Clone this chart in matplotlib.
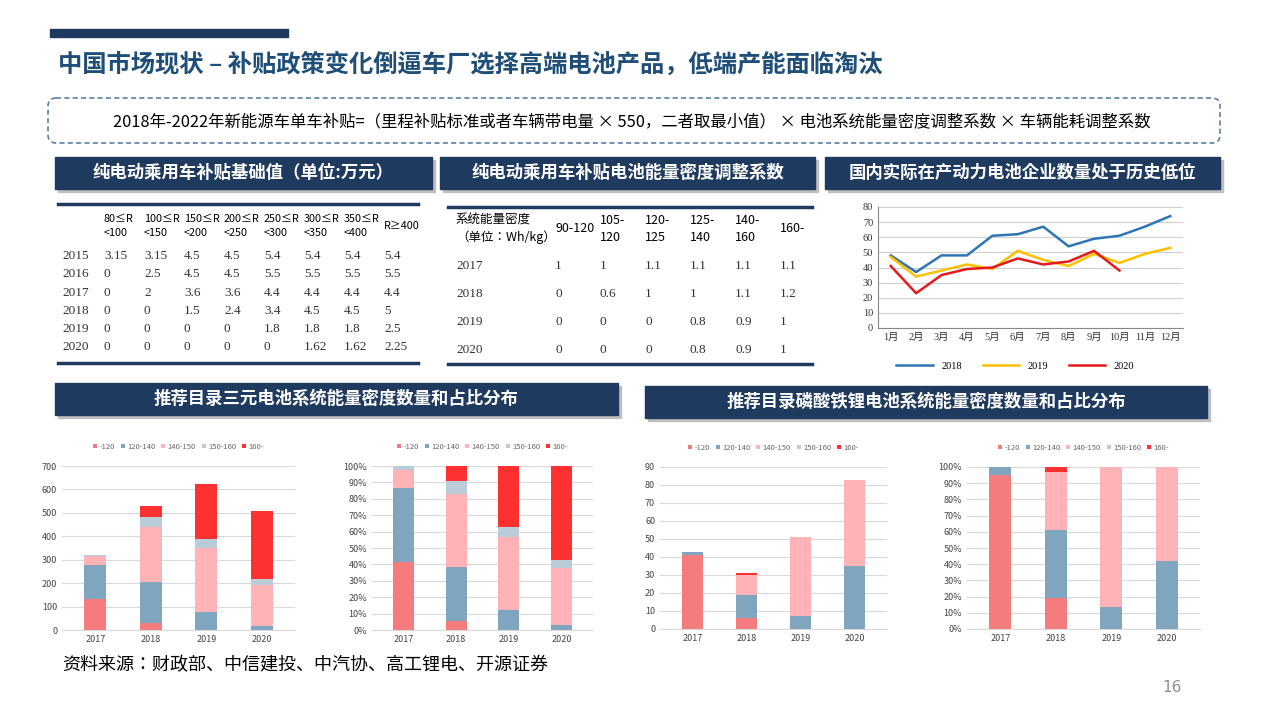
import numpy as np
import matplotlib.pyplot as plt
from matplotlib.patches import FancyBboxPatch, Rectangle

plt.rcParams['font.family'] = ['Noto Sans CJK JP', 'DejaVu Sans']
SERIF = ['Liberation Serif', 'Noto Sans CJK JP']

W, H = 1280, 719
NAVY = '#1F3A5F'
SEG_COLORS = ['#F47C7C', '#7FA5BF', '#FFB3B6', '#B9CCD8', '#FF3030']
SEG_LABELS = ['-120', '120-140', '140-150', '150-160', '160-']
YEARS = ['2017', '2018', '2019', '2020']

# subsidy base table
sub_cols = ['80≤R\n<100', '100≤R\n<150', '150≤R\n<200', '200≤R\n<250',
            '250≤R\n<300', '300≤R\n<350', '350≤R\n<400', 'R≥400']
sub_years = ['2015', '2016', '2017', '2018', '2019', '2020']
sub_vals = [['3.15', '3.15', '4.5', '4.5', '5.4', '5.4', '5.4', '5.4'],
            ['0', '2.5', '4.5', '4.5', '5.5', '5.5', '5.5', '5.5'],
            ['0', '2', '3.6', '3.6', '4.4', '4.4', '4.4', '4.4'],
            ['0', '0', '1.5', '2.4', '3.4', '4.5', '4.5', '5'],
            ['0', '0', '0', '0', '1.8', '1.8', '1.8', '2.5'],
            ['0', '0', '0', '0', '0', '1.62', '1.62', '2.25']]

# energy density coefficient table
den_cols = ['90-120', '105-\n120', '120-\n125', '125-\n140', '140-\n160', '160-']
den_years = ['2017', '2018', '2019', '2020']
den_vals = [['1', '1', '1.1', '1.1', '1.1', '1.1'],
            ['0', '0.6', '1', '1', '1.1', '1.2'],
            ['0', '0', '0', '0.8', '0.9', '1'],
            ['0', '0', '0', '0.8', '0.9', '1']]

# battery companies per month
months = ['1月', '2月', '3月', '4月', '5月', '6月', '7月', '8月', '9月', '10月', '11月', '12月']
c2018 = [48, 37, 48, 48, 61, 62, 67, 54, 59, 61, 67, 74]
c2019 = [47, 34, 38, 42, 39, 51, 45, 41, 49, 43, 49, 53]
c2020 = [41, 23, 35, 39, 40, 46, 42, 44, 51, 38]

# ternary battery counts per density segment (rows = segments)
ncm = np.array([[133, 30, 0, 0],
                [145, 173, 75, 15],
                [37, 237, 277, 177],
                [7, 43, 38, 25],
                [0, 47, 233, 290]], dtype=float)
# LFP battery counts
lfp = np.array([[41, 6, 0, 0],
                [2, 13, 7, 35],
                [0, 11, 44, 48],
                [0, 0, 0, 0],
                [0, 1, 0, 0]], dtype=float)

fig = plt.figure(figsize=(12.8, 7.19), dpi=100)
bg = fig.add_axes([0, 0, 1, 1])
bg.set_xlim(0, W)
bg.set_ylim(H, 0)
bg.axis('off')


def rect_ax(x0, y0, x1, y1):
    return fig.add_axes([x0 / W, 1 - y1 / H, (x1 - x0) / W, (y1 - y0) / H])


# top bar and title
bg.add_patch(Rectangle((50, 29), 238, 8, color=NAVY))
bg.text(58, 65, '中国市场现状 – 补贴政策变化倒逼车厂选择高端电池产品，低端产能面临淘汰',
        fontsize=17.5, fontweight='bold', color='#1F4E79', va='center')

# formula box
bg.add_patch(FancyBboxPatch((48, 98), 1172, 45, boxstyle='round,pad=0,rounding_size=8',
                            fill=False, ec='#5B7FA6', ls=(0, (3, 2)), lw=1.2))
bg.text(632, 122, '2018年-2022年新能源车单车补贴=（里程补贴标准或者车辆带电量 × 550，二者取最小值） × 电池系统能量密度调整系数 × 车辆能耗调整系数',
        fontsize=11.8, ha='center', va='center')


def header(x0, y0, x1, y1, txt):
    bg.add_patch(Rectangle((x0 + 3, y0 + 3), x1 - x0, y1 - y0, color='#BFBFBF'))
    bg.add_patch(Rectangle((x0, y0), x1 - x0, y1 - y0, color=NAVY))
    bg.text((x0 + x1) / 2, (y0 + y1) / 2, txt, color='white', fontsize=12.5,
            ha='center', va='center', fontweight='bold')


header(55, 157, 432, 189, '纯电动乘用车补贴基础值（单位:万元）')
header(440, 157, 815, 189, '纯电动乘用车补贴电池能量密度调整系数')
header(825, 157, 1220, 189, '国内实际在产动力电池企业数量处于历史低位')
header(55, 383, 618, 415, '推荐目录三元电池系统能量密度数量和占比分布')
header(645, 386, 1207, 418, '推荐目录磷酸铁锂电池系统能量密度数量和占比分布')

# table 1
bg.plot([58, 418], [204, 204], color=NAVY, lw=2.5)
bg.plot([58, 418], [363, 363], color=NAVY, lw=2.5)
for j, c in enumerate(sub_cols):
    bg.text(104 + 40 * j, 226, c, fontsize=7.8, va='center', linespacing=1.4)
for i, yr in enumerate(sub_years):
    y = 256 + 18.3 * i
    bg.text(62, y, yr, fontsize=9.5, va='center', family=SERIF, color='#333333')
    for j, v in enumerate(sub_vals[i]):
        bg.text(104 + 40 * j, y, v, fontsize=9.5, va='center', family=SERIF, color='#333333')

# table 2
bg.plot([448, 812], [207, 207], color=NAVY, lw=2.5)
bg.plot([448, 812], [364, 364], color=NAVY, lw=2.5)
bg.text(456, 229, '系统能量密度\n（单位：Wh/kg）', fontsize=9, va='center', linespacing=1.4)
for j, c in enumerate(den_cols):
    bg.text(555 + 45 * j, 229, c, fontsize=9, va='center', linespacing=1.4)
for i, yr in enumerate(den_years):
    y = 266 + 28 * i
    bg.text(456, y, yr, fontsize=9.5, va='center', family=SERIF, color='#333333')
    for j, v in enumerate(den_vals[i]):
        bg.text(555 + 45 * j, y, v, fontsize=9.5, va='center', family=SERIF, color='#333333')

# line chart
ax = rect_ax(878, 207, 1183, 328)
x = np.arange(len(months))
ax.plot(x, c2018, color='#2E75B6', lw=1.8, label='2018')
ax.plot(x[:len(c2019)], c2019, color='#FFC000', lw=1.8, label='2019')
ax.plot(x[:len(c2020)], c2020, color='#E41A1C', lw=1.8, label='2020')
ax.set_ylim(0, 80)
ax.set_yticks(range(0, 81, 10))
ax.set_xlim(-0.5, 11.5)
ax.set_xticks(x)
ax.set_xticklabels(months)
ax.grid(axis='y', color='#D0D0D0', lw=0.8)
ax.set_axisbelow(True)
for s in ['top', 'right']:
    ax.spines[s].set_visible(False)
ax.spines['left'].set_color('#888888')
ax.spines['bottom'].set_color('#888888')
ax.tick_params(labelsize=7.5, length=0, colors='#333333')
for t in ax.get_xticklabels() + ax.get_yticklabels():
    t.set_family(SERIF)
leg = ax.legend(loc='upper center', bbox_to_anchor=(0.45, -0.2), ncol=3, frameon=False, fontsize=7.5,
                handlelength=3.5)
for t in leg.get_texts():
    t.set_family(SERIF)


def stacked(rect, data, pct, ymax, step):
    a = rect_ax(*rect)
    d = data / data.sum(axis=0) * 100 if pct else data
    bottom = np.zeros(d.shape[1])
    xs = np.arange(d.shape[1])
    for k in range(d.shape[0]):
        a.bar(xs, d[k], 0.4, bottom=bottom, color=SEG_COLORS[k], label=SEG_LABELS[k])
        bottom += d[k]
    a.set_ylim(0, ymax)
    a.set_yticks(np.arange(0, ymax + 0.1, step))
    if pct:
        a.set_yticklabels([f'{int(t)}%' for t in np.arange(0, ymax + 0.1, step)])
    a.set_xticks(xs)
    a.set_xticklabels(YEARS)
    a.set_xlim(-0.6, 3.6)
    a.grid(axis='y', color='#D9D9D9', lw=0.8)
    a.set_axisbelow(True)
    for s in a.spines.values():
        s.set_visible(False)
    a.spines['bottom'].set_visible(True)
    a.spines['bottom'].set_color('#D9D9D9')
    a.tick_params(labelsize=6.5, length=0, colors='#444444')
    a.legend(loc='lower center', bbox_to_anchor=(0.5, 1.05), ncol=5, frameon=False, fontsize=5.5,
             handlelength=0.5, handleheight=0.5, columnspacing=0.8, handletextpad=0.3,
             labelcolor='#666666')


stacked((62, 466, 295, 630), ncm, False, 700, 100)
stacked((372, 466, 593, 630), ncm, True, 100, 10)
stacked((660, 467, 887, 629), lfp, False, 90, 10)
stacked((967, 467, 1200, 629), lfp, True, 100, 10)

bg.text(62, 665, '资料来源：财政部、中信建投、中汽协、高工锂电、开源证券', fontsize=13, va='center')
bg.text(1172, 687, '16', fontsize=11, color='#8C8C8C', ha='center', va='center', family='DejaVu Sans')

fig.savefig('out.png', dpi=100)
